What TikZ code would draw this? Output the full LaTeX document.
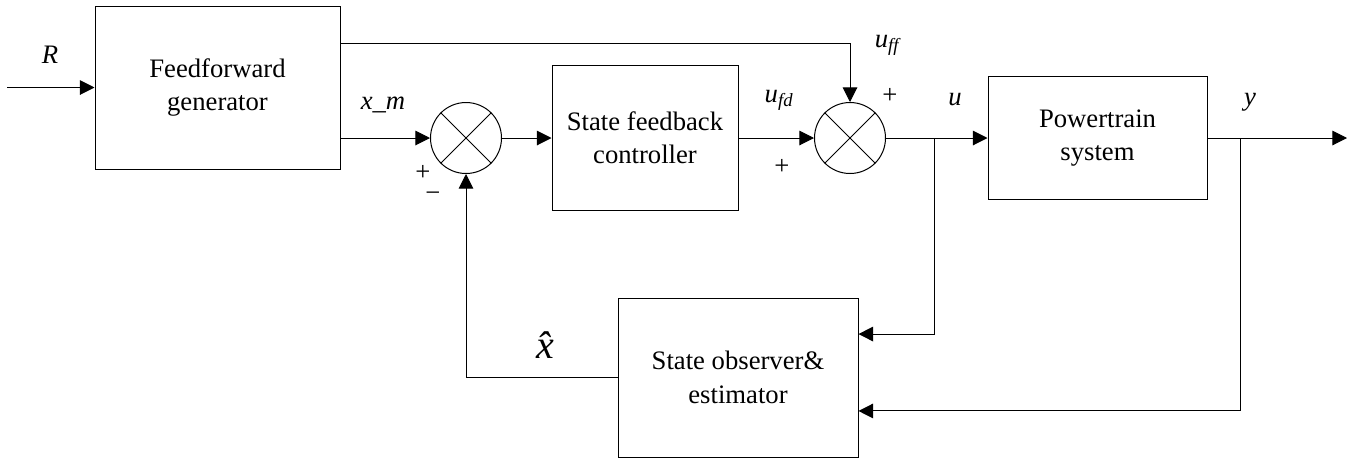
\documentclass[tikz,border=0pt]{standalone}
\usepackage{fontspec}
\setmainfont{LiberationSerif}[Extension=.ttf, UprightFont=*-Regular, ItalicFont=*-Italic, BoldFont=*-Bold, BoldItalicFont=*-BoldItalic]
\usetikzlibrary{arrows.meta,calc}

\tikzset{
  blk/.style={draw, line width=0.75pt, align=center, inner sep=0pt, font=\fontsize{20}{25}\selectfont},
  sumnode/.style={draw, circle, line width=0.75pt, minimum size=53.25pt, inner sep=0pt},
  sig/.style={-{Triangle[length=11pt,width=11pt]}, line width=0.75pt},
  lbl/.style={inner sep=0pt, font=\fontsize{20}{24}\selectfont\itshape},
  sgn/.style={inner sep=0pt, font=\fontsize{20}{24}\selectfont},
}

\begin{document}
\begin{tikzpicture}[x=0.75pt,y=0.75pt,yscale=-1,xscale=1]
\useasboundingbox (0,0) rectangle (1357,462);

%Shape: Blocks
\node[blk, minimum width=183.75pt, minimum height=122.25pt] (ff) at (217.5,87.5) {Feedforward\\generator};
\node[blk, minimum width=139.5pt, minimum height=108.75pt] (sf) at (645,138) {State feedback\\controller};
\node[blk, minimum width=164.25pt, minimum height=92.25pt] (pt) at (1097.5,138) {Powertrain\\system};
\node[blk, minimum width=180pt, minimum height=119.25pt] (obs) at (738,377.5) {State observer\&\\estimator};

%Shape: Summing junctions
\node[sumnode] (s1) at (466,138) {};
\node[sumnode] (s2) at (850,138) {};
\draw[line width=0.6pt] (s1.north west) -- (s1.south east) (s1.north east) -- (s1.south west);
\draw[line width=0.6pt] (s2.north west) -- (s2.south east) (s2.north east) -- (s2.south west);

%Free ends and branch points
\coordinate (rin) at (7,87.5);
\coordinate (fftap) at (340,43);
\coordinate (ubr) at (934,138);
\coordinate (ybr) at (1240,138);
\coordinate (yout) at (1347,138);

%Connectors
\draw[sig] (rin) -- (ff.west);
\draw[sig] (fftap) -| (s2.north);
\draw[sig] (ff.east |- s1.west) -- (s1.west);
\draw[sig] (s1.east) -- (sf.west);
\draw[sig] (sf.east) -- (s2.west);
\draw[sig] (s2.east) -- (pt.west);
\draw[sig] (pt.east) -- (yout);
\draw[sig] (ubr) |- ([yshift=-32.6pt]obs.east);
\draw[sig] (ybr) |- ([yshift=25.1pt]obs.east);
\draw[sig] (obs.west) -| (s1.south);

% Text Node
\node[lbl] (rlbl) at (50,55) {R};
\node[lbl] (xmlbl) at (383,105) {x\_m};
\node[sgn] (p1) at (423,173) {+};
\node[sgn] (m1) at (433,197) {\char"2212};
\node[lbl] (ufdlbl) at (779,100) {u\textsubscript{\itshape fd}};
\node[sgn] (p2) at (782,167) {+};
\node[lbl] (ufflbl) at (887,45) {u\textsubscript{\itshape ff}};
\node[sgn] (p3) at (890,96) {+};
\node[lbl] (ulbl) at (955,100) {u};
\node[lbl] (ylbl) at (1250,102) {y};
\node[lbl, font=\fontsize{30}{30}\selectfont\itshape] (xhat) at (545,345) {\^{x}};

\end{tikzpicture}
\end{document}
